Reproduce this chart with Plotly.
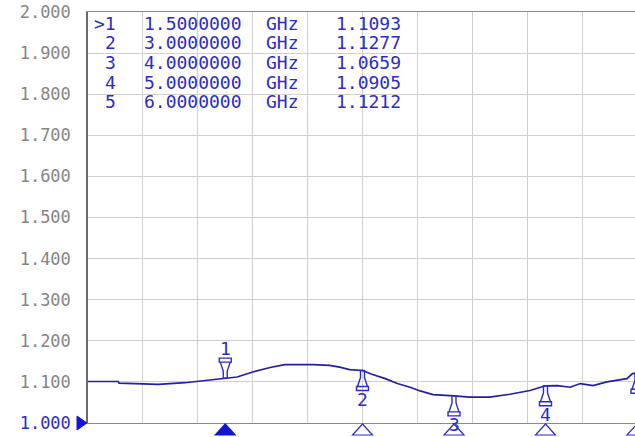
import plotly.graph_objects as go

# ---------------- data ----------------
freq_ghz = [0.00, 0.33, 0.34, 0.77, 1.06, 1.28, 1.50, 1.63, 1.80, 1.99, 2.15, 2.32, 2.46,
            2.64, 2.75, 2.86, 3.00, 3.11, 3.25, 3.38, 3.52, 3.63, 3.77, 4.00, 4.17, 4.39,
            4.61, 4.83, 5.00, 5.13, 5.27, 5.38, 5.52, 5.67, 5.81, 5.89, 5.95, 6.00]
vswr = [1.101, 1.101, 1.097, 1.094, 1.098, 1.104, 1.1093, 1.112, 1.124, 1.135, 1.142, 1.143,
        1.142, 1.140, 1.136, 1.130, 1.1277, 1.118, 1.108, 1.096, 1.087, 1.078, 1.069, 1.0659,
        1.063, 1.063, 1.070, 1.079, 1.0905, 1.091, 1.087, 1.096, 1.091, 1.100, 1.104, 1.108,
        1.120, 1.1212]

marker_ids = ["1", "2", "3", "4", "5"]
marker_freq = [1.5, 3.0, 4.0, 5.0, 6.0]
marker_freq_text = ["1.5000000", "3.0000000", "4.0000000", "5.0000000", "6.0000000"]
marker_unit = "GHz"
marker_vswr = [1.1093, 1.1277, 1.0659, 1.0905, 1.1212]
active_marker = 0

y_tick_vals = [1.0, 1.1, 1.2, 1.3, 1.4, 1.5, 1.6, 1.7, 1.8, 1.9, 2.0]
y_tick_text = ["1.000", "1.100", "1.200", "1.300", "1.400", "1.500",
               "1.600", "1.700", "1.800", "1.900", "2.000"]
x_grid_vals = [0.0, 0.6, 1.2, 1.8, 2.4, 3.0, 3.6, 4.2, 4.8, 5.4, 6.0]
ref_level = 1.0

# ---------------- style ----------------
W, H = 635, 437
ML, MR, MT, MB = 88, 0, 12, 14
X_MAX = 6.0 * (W - ML) / 549.0
BLUE_TXT = "#2b2bcc"
BLUE_LINE = "#2020a6"
BLUE_FILL = "#1414d8"
GRAY_TXT = "#858585"
GRID = "#cfcfcf"
FONT = "DejaVu Sans Mono"

fig = go.Figure()
fig.add_trace(go.Scatter(x=freq_ghz, y=vswr, mode="lines",
                         line=dict(color=BLUE_LINE, width=1.7), hoverinfo="skip",
                         showlegend=False))

ticktext = [f"<span style='color:{BLUE_TXT}'>{t}</span>" if v == ref_level else t
            for v, t in zip(y_tick_vals, y_tick_text)]

shapes = []
annotations = []

# marker pins
pin_up = "M -2 0 L -2 -7 L -5 -16 L -6 -16 L -6 -20 L 6 -20 L 6 -16 L 5 -16 L 2 -7 L 2 0 Z M -5 -16 L 5 -16"
pin_down = "M -2 0 L -2 7 L -5 16 L -6 16 L -6 20 L 6 20 L 6 16 L 5 16 L 2 7 L 2 0 Z M -5 16 L 5 16"
for i, (mid, f, v) in enumerate(zip(marker_ids, marker_freq, marker_vswr)):
    above = (i == active_marker)
    shapes.append(dict(type="path", xref="x", yref="y", xsizemode="pixel", ysizemode="pixel",
                       xanchor=f, yanchor=v, path=pin_down if above else pin_up,
                       line=dict(color=BLUE_TXT, width=1.4), fillcolor="rgba(0,0,0,0)"))
    annotations.append(dict(x=f, y=v, xref="x", yref="y", text=mid, showarrow=False,
                            yshift=30 if above else -29,
                            font=dict(family=FONT, size=18, color=BLUE_TXT)))
    # bottom triangles
    shapes.append(dict(type="path", xref="x", yref="paper", xsizemode="pixel", ysizemode="pixel",
                       xanchor=f, yanchor=0, path="M -10 -12 L 10 -12 L 0 -1 Z",
                       line=dict(color=BLUE_FILL if above else BLUE_TXT, width=1.2),
                       fillcolor=BLUE_FILL if above else "rgba(0,0,0,0)"))

# reference level arrow
shapes.append(dict(type="path", xref="paper", yref="paper", xsizemode="pixel", ysizemode="pixel",
                   xanchor=0, yanchor=0, path="M -11 7 L -11 -7 L -1 0 Z",
                   line=dict(color=BLUE_FILL, width=1), fillcolor=BLUE_FILL))

# marker table
for i, (mid, ft, v) in enumerate(zip(marker_ids, marker_freq_text, marker_vswr)):
    yc = 23 + 19.7 * i
    ys = -(yc - MT)
    lab = (">" + mid) if i == active_marker else mid
    tf = dict(family=FONT, size=18, color=BLUE_TXT)
    annotations.append(dict(x=0, y=1, xref="paper", yref="paper", xanchor="right", yanchor="middle",
                            xshift=117 - ML, yshift=ys, text=lab, showarrow=False, font=tf, borderpad=0))
    annotations.append(dict(x=0, y=1, xref="paper", yref="paper", xanchor="left", yanchor="middle",
                            xshift=143 - ML, yshift=ys, text=ft, showarrow=False, font=tf, borderpad=0))
    annotations.append(dict(x=0, y=1, xref="paper", yref="paper", xanchor="left", yanchor="middle",
                            xshift=265 - ML, yshift=ys, text=marker_unit, showarrow=False, font=tf, borderpad=0))
    annotations.append(dict(x=0, y=1, xref="paper", yref="paper", xanchor="right", yanchor="middle",
                            xshift=402 - ML, yshift=ys, text=f"{v:.4f}", showarrow=False, font=tf, borderpad=0))

fig.update_layout(
    width=W, height=H, margin=dict(l=ML, r=MR, t=MT, b=MB, pad=0),
    paper_bgcolor="white", plot_bgcolor="white",
    showlegend=False, shapes=shapes, annotations=annotations,
    xaxis=dict(range=[0, X_MAX], tickvals=x_grid_vals, showticklabels=False, ticks="",
               showgrid=True, gridcolor=GRID, gridwidth=1, zeroline=False,
               showline=True, linecolor="#8a8a8a", linewidth=1, mirror=True),
    yaxis=dict(range=[1.0, 2.0], tickvals=y_tick_vals, ticktext=ticktext, ticks="",
               ticklabelstandoff=12,
               tickfont=dict(family=FONT, size=17, color=GRAY_TXT),
               showgrid=True, gridcolor=GRID, gridwidth=1, zeroline=False,
               showline=True, linecolor="#6a6a6a", linewidth=1.5),
)

fig.write_html("out.html", config={"displayModeBar": False},
               post_script="document.body.style.margin='0';document.body.style.overflow='hidden';")
